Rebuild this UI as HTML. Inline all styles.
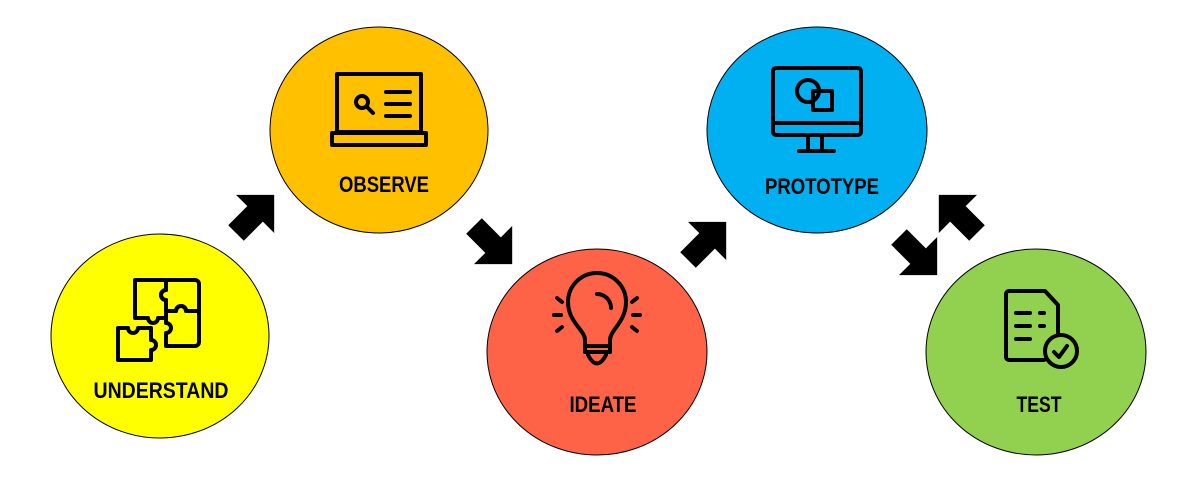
<!DOCTYPE html>
<html><head><meta charset="utf-8"><style>
html,body{margin:0;padding:0;background:#fff}
svg{display:block}
text{font-family:"Liberation Sans",sans-serif;font-weight:bold;font-size:22px;fill:#000;text-anchor:middle}
</style></head><body>
<svg width="1200" height="492" viewBox="0 0 1200 492" xmlns="http://www.w3.org/2000/svg">
<defs>
<polygon id="arr" points="0,-11 27,-11 27,-27 54,0 27,27 27,11 0,11" fill="#000"/>
</defs>
<ellipse cx="160" cy="336" rx="109" ry="102" fill="#ffff00" stroke="#000" stroke-width="1"/>
<ellipse cx="379" cy="130" rx="109" ry="103" fill="#ffc000" stroke="#000" stroke-width="1"/>
<ellipse cx="597" cy="352" rx="110" ry="103" fill="#ff6347" stroke="#000" stroke-width="1"/>
<ellipse cx="817" cy="130" rx="110" ry="103" fill="#00b0f0" stroke="#000" stroke-width="1"/>
<ellipse cx="1036" cy="352" rx="110" ry="103" fill="#92d050" stroke="#000" stroke-width="1"/>

<use href="#arr" transform="translate(236,233) rotate(-45)"/>
<use href="#arr" transform="translate(474,226) rotate(45)"/>
<use href="#arr" transform="translate(688,260) rotate(-45)"/>
<use href="#arr" transform="translate(899,237) rotate(45)"/>
<use href="#arr" transform="translate(977,233) rotate(-135)"/>

<text x="161" y="398" textLength="135" lengthAdjust="spacingAndGlyphs">UNDERSTAND</text>
<text x="384" y="192" textLength="90" lengthAdjust="spacingAndGlyphs">OBSERVE</text>
<text x="603" y="412" textLength="67" lengthAdjust="spacingAndGlyphs">IDEATE</text>
<text x="822" y="194" textLength="114" lengthAdjust="spacingAndGlyphs">PROTOTYPE</text>
<text x="1039" y="412" textLength="45" lengthAdjust="spacingAndGlyphs">TEST</text>

<g fill="none" stroke="#000" stroke-width="4" stroke-linejoin="round" stroke-linecap="round">
<path d="M135,280 H166 V290 a5,5 0 0 0 0,10 V318 H158 a5,5 0 0 1 -10,0 H135 Z"/>
<path d="M166,280 H195 a4,4 0 0 1 4,4 V311 H186 a5,5 0 0 0 -10,0 H166 V300 a5,5 0 0 1 0,-10 Z"/>
<path d="M166,311 H176 a5,5 0 0 1 10,0 H199 V342 a4,4 0 0 1 -4,4 H166 V333 a5,5 0 0 0 0,-10 Z"/>
<path d="M118,328 H128 a5,5 0 0 0 10,0 H151 V340 a5,5 0 0 1 0,10 V360 H118 Z"/>
<rect x="337" y="74" width="84" height="58"/>
<rect x="332" y="133" width="94" height="12"/>
<circle cx="362" cy="102" r="6"/>
<line x1="367" y1="107" x2="373" y2="113"/>
<line x1="386" y1="92" x2="410" y2="92"/>
<line x1="386" y1="104" x2="410" y2="104"/>
<line x1="386" y1="116" x2="410" y2="116"/>
<path d="M585,352 V340 C585,330 568,322 568,302 A29,29 0 0 1 626,302 C626,322 610,330 610,340 V352 Z"/>
<line x1="585" y1="352" x2="610" y2="352"/>
<line x1="585" y1="346" x2="610" y2="346"/>
<path d="M588,355 Q597,372 606,355"/>
<path d="M597,294 A14,14 0 0 1 611,308" />
<line x1="557" y1="298" x2="562" y2="302"/>
<line x1="554" y1="315" x2="561" y2="315"/>
<line x1="557" y1="331" x2="562" y2="327"/>
<line x1="637" y1="298" x2="632" y2="302"/>
<line x1="640" y1="315" x2="633" y2="315"/>
<line x1="637" y1="331" x2="632" y2="327"/>
<rect x="773" y="68" width="88" height="67" rx="3"/>
<line x1="773" y1="123" x2="861" y2="123"/>
<line x1="808" y1="136" x2="808" y2="150"/>
<line x1="822" y1="136" x2="822" y2="150"/>
<line x1="799" y1="151" x2="834" y2="151"/>
<circle cx="808" cy="91" r="11"/>
<rect x="813" y="91" width="19" height="19"/>
<path d="M1044,360 H1009 a3,3 0 0 1 -3,-3 V294 a3,3 0 0 1 3,-3 H1045 L1058,305 V334"/>
<line x1="1016" y1="313" x2="1030" y2="313"/>
<line x1="1040" y1="313" x2="1044" y2="313"/>
<line x1="1016" y1="326" x2="1030" y2="326"/>
<line x1="1040" y1="326" x2="1044" y2="326"/>
<line x1="1016" y1="339" x2="1030" y2="339"/>
<circle cx="1061" cy="351" r="16"/>
<path d="M1054,352 L1059,357 L1067,346"/>
</g>
</svg>
</body></html>
